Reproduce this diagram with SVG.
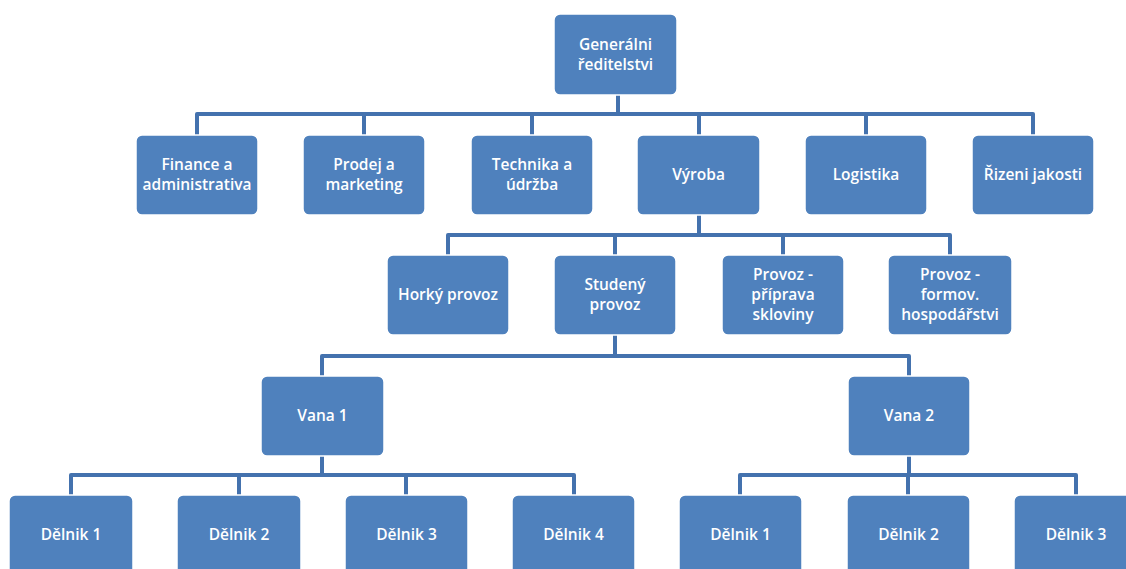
<svg xmlns="http://www.w3.org/2000/svg" width="1126" height="569" viewBox="0 0 1126 569">
<style>
.box{fill:#4F81BD;stroke:#ffffff;stroke-width:1.5}
.lbl{fill:#ffffff;font-family:"Open Sans","Liberation Sans",sans-serif;font-weight:600;font-size:15.5px;text-anchor:middle}
.con{fill:none;stroke:#4472AE;stroke-width:4;stroke-linejoin:round}
</style>
<rect width="1126" height="569" fill="#ffffff"/>
<g id="connectors">
<path class="con" d="M618,95V114"/>
<path class="con" d="M197,135V114H1033V135M364,114V135M532,114V135M699,114V135M866,114V135"/>
<path class="con" d="M699,215V235"/>
<path class="con" d="M448,255V235H950V255M615,235V255M783,235V255"/>
<path class="con" d="M615,335V356"/>
<path class="con" d="M322,376V356H909V376"/>
<path class="con" d="M322,456V475"/>
<path class="con" d="M71,495V475H574V495M239,475V495M406,475V495"/>
<path class="con" d="M909,456V475"/>
<path class="con" d="M740,495V475H1076V495M908,475V495"/>
</g>
<g id="n-gr"><rect class="box" x="554" y="14" width="123" height="81" rx="6"/><text class="lbl" x="615.5" y="50">Generálni</text><text class="lbl" x="615.5" y="70">ředitelstvi</text></g>
<g id="n-fin"><rect class="box" x="136" y="135" width="122" height="80" rx="6"/><text class="lbl" x="197" y="170">Finance a</text><text class="lbl" x="197" y="190">administrativa</text></g>
<g id="n-pro"><rect class="box" x="303" y="135" width="122" height="80" rx="6"/><text class="lbl" x="364" y="170">Prodej a</text><text class="lbl" x="364" y="190">marketing</text></g>
<g id="n-tech"><rect class="box" x="471" y="135" width="122" height="80" rx="6"/><text class="lbl" x="532" y="170">Technika a</text><text class="lbl" x="532" y="190">údržba</text></g>
<g id="n-vyr"><rect class="box" x="637" y="135" width="123" height="80" rx="6"/><text class="lbl" x="698.5" y="180">Výroba</text></g>
<g id="n-log"><rect class="box" x="805" y="135" width="122" height="80" rx="6"/><text class="lbl" x="866" y="180">Logistika</text></g>
<g id="n-riz"><rect class="box" x="972" y="135" width="122" height="80" rx="6"/><text class="lbl" x="1033" y="180">Řizeni jakosti</text></g>
<g id="n-hor"><rect class="box" x="387" y="255" width="122" height="80" rx="6"/><text class="lbl" x="448" y="300">Horký provoz</text></g>
<g id="n-stu"><rect class="box" x="554" y="255" width="122" height="80" rx="6"/><text class="lbl" x="615" y="290">Studený</text><text class="lbl" x="615" y="310">provoz</text></g>
<g id="n-pri"><rect class="box" x="722" y="255" width="122" height="80" rx="6"/><text class="lbl" x="783" y="280">Provoz -</text><text class="lbl" x="783" y="300">příprava</text><text class="lbl" x="783" y="320">skloviny</text></g>
<g id="n-for"><rect class="box" x="888" y="255" width="124" height="80" rx="6"/><text class="lbl" x="950" y="280">Provoz -</text><text class="lbl" x="950" y="300">formov.</text><text class="lbl" x="950" y="320">hospodářstvi</text></g>
<g id="n-v1"><rect class="box" x="261" y="376" width="123" height="80" rx="6"/><text class="lbl" x="322.5" y="421">Vana 1</text></g>
<g id="n-v2"><rect class="box" x="848" y="376" width="122" height="80" rx="6"/><text class="lbl" x="909" y="421">Vana 2</text></g>
<g id="n-d11"><rect class="box" x="9" y="495" width="124" height="82" rx="6"/><text class="lbl" x="71" y="540">Dělnik 1</text></g>
<g id="n-d12"><rect class="box" x="177" y="495" width="124" height="82" rx="6"/><text class="lbl" x="239" y="540">Dělnik 2</text></g>
<g id="n-d13"><rect class="box" x="345" y="495" width="123" height="82" rx="6"/><text class="lbl" x="406.5" y="540">Dělnik 3</text></g>
<g id="n-d14"><rect class="box" x="512" y="495" width="123" height="82" rx="6"/><text class="lbl" x="573.5" y="540">Dělnik 4</text></g>
<g id="n-d21"><rect class="box" x="679" y="495" width="123" height="82" rx="6"/><text class="lbl" x="740.5" y="540">Dělnik 1</text></g>
<g id="n-d22"><rect class="box" x="847" y="495" width="123" height="82" rx="6"/><text class="lbl" x="908.5" y="540">Dělnik 2</text></g>
<g id="n-d23"><rect class="box" x="1014" y="495" width="124" height="82" rx="6"/><text class="lbl" x="1076" y="540">Dělnik 3</text></g>
</svg>
